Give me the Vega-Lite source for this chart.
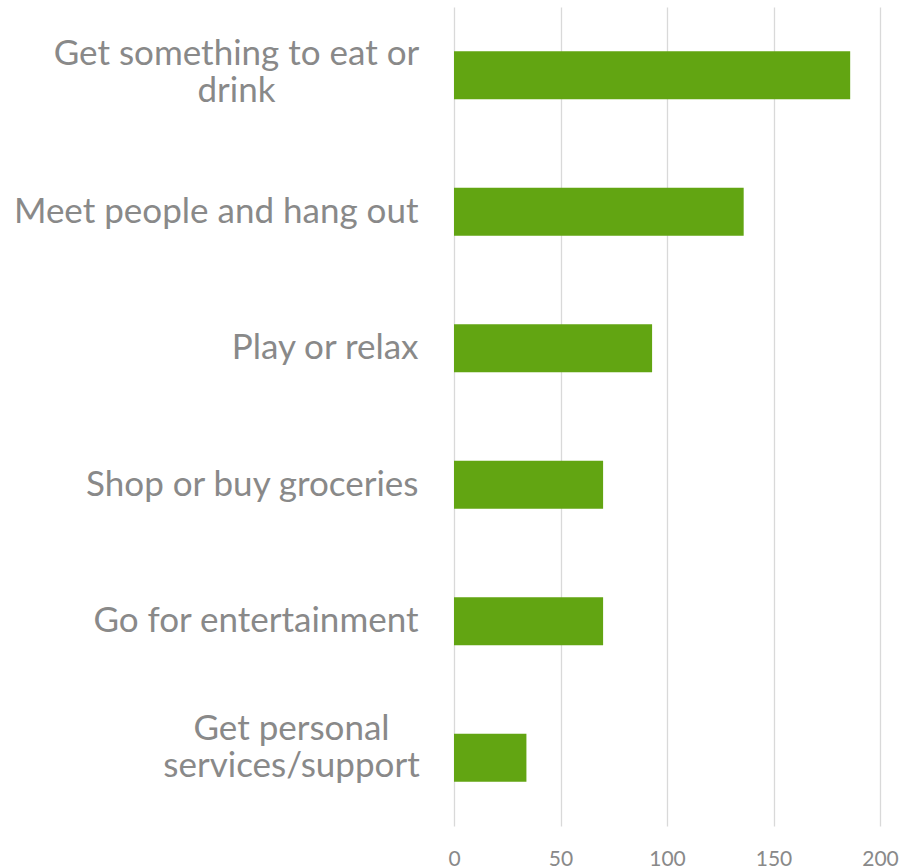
{
  "$schema": "https://vega.github.io/schema/vega-lite/v6.json",
  "autosize": "none",
  "padding": {"left": 454, "top": 7, "right": 37, "bottom": 42},
  "width": 426,
  "height": 819,
  "background": "white",
  "config": {"view": {"stroke": null}, "font": "Lato"},
  "data": {
    "values": [
      {"activity": "Get something to eat or drink", "count": 186},
      {"activity": "Meet people and hang out", "count": 136},
      {"activity": "Play or relax", "count": 93},
      {"activity": "Shop or buy groceries", "count": 70},
      {"activity": "Go for entertainment", "count": 70},
      {"activity": "Get personal services/support", "count": 34}
    ]
  },
  "mark": {"type": "bar", "color": "#62A512"},
  "encoding": {
    "y": {
      "field": "activity",
      "type": "nominal",
      "sort": null,
      "scale": {"paddingInner": 0.648, "paddingOuter": 0.324},
      "axis": {
        "title": null,
        "domain": false,
        "ticks": false,
        "grid": false,
        "labelFont": "Lato",
        "labelFontSize": 35,
        "labelColor": "#898989",
        "labelLimit": 0,
        "labelLineHeight": 37,
        "labelAlign": {"condition": {"test": "datum.value == 'Get something to eat or drink' || datum.value == 'Get personal services/support'", "value": "center"}, "value": "right"},
        "labelPadding": {"expr": "datum.value == 'Get something to eat or drink' ? 218 : datum.value == 'Get personal services/support' ? 163 : 36"},
        "labelOffset": {"expr": "datum.value == 'Get something to eat or drink' ? -21 : datum.value == 'Get personal services/support' ? -29 : 0"},
        "labelExpr": "datum.value == 'Get something to eat or drink' ? ['Get something to eat or', 'drink'] : datum.value == 'Get personal services/support' ? ['Get personal', 'services/support'] : datum.value"
      }
    },
    "x": {
      "field": "count",
      "type": "quantitative",
      "scale": {"domain": [0, 200], "nice": false},
      "axis": {
        "title": null,
        "values": [0, 50, 100, 150, 200],
        "domain": false,
        "ticks": false,
        "grid": true,
        "gridColor": "#d9d9d9",
        "gridWidth": 1.3,
        "labelFont": "Lato",
        "labelFontSize": 21,
        "labelColor": "#898989",
        "labelPadding": 22,
        "labelBaseline": "top",
        "labelFlush": false
      }
    }
  }
}
